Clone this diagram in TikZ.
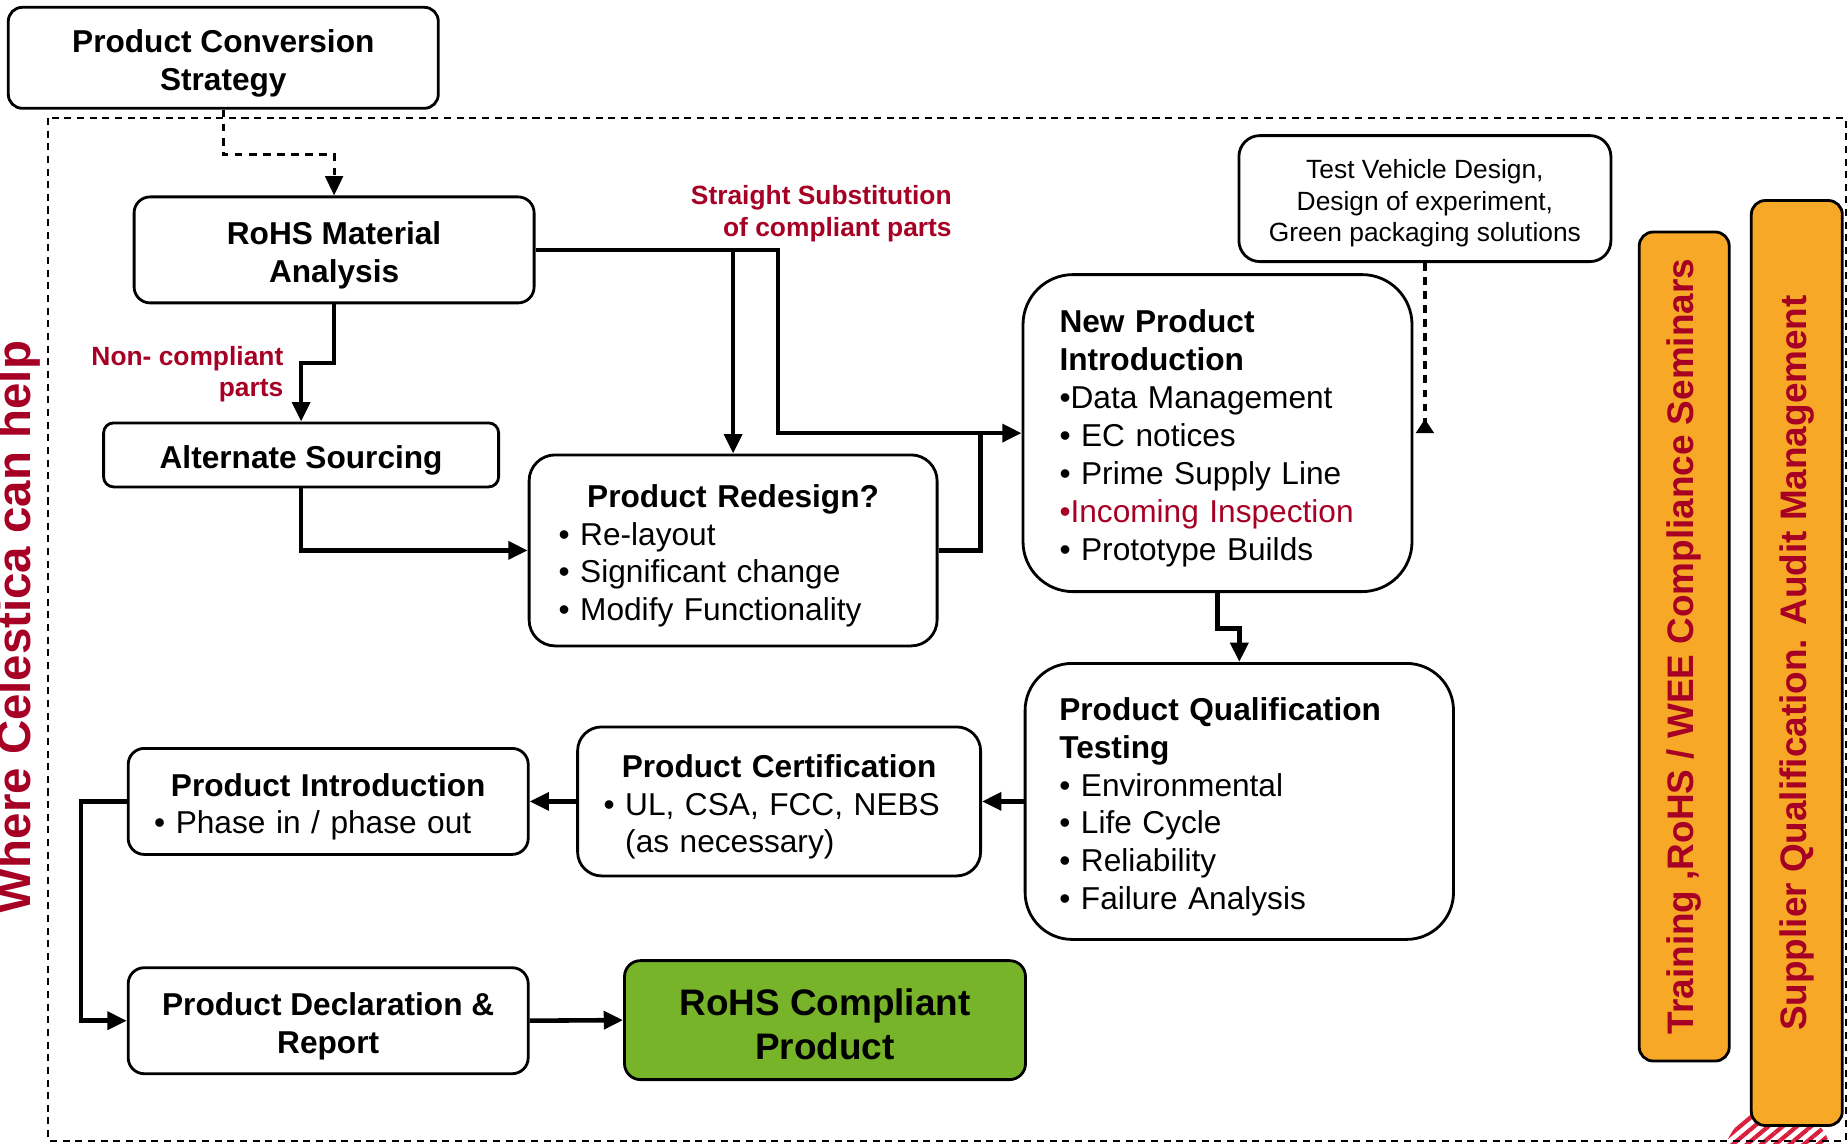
\documentclass[tikz,border=0pt]{standalone}
\usepackage{fontspec}
\setmainfont{Liberation Sans}
\usetikzlibrary{shapes,arrows.meta,positioning,calc,patterns.meta}
\definecolor{rohsred}{RGB}{166,0,36}
\definecolor{logored}{RGB}{218,30,62}
\definecolor{barorange}{RGB}{246,168,38}
\definecolor{okgreen}{RGB}{119,180,41}
% invisible strut so the text sits a little low in its box
\newcommand{\topgap}[1][9.6pt]{\rule{0pt}{#1}}
\tikzstyle{block} = [rectangle, draw, line width=0.8pt, fill=white, align=center, rounded corners=0.16cm, inner sep=0pt, font=\bfseries\fontsize{9}{10.8}\selectfont]
\tikzstyle{listblock} = [block, align=left, font=\fontsize{9}{10.8}\selectfont]
\tikzstyle{bar} = [rectangle, draw, line width=0.8pt, fill=barorange, rounded corners=0.14cm, rotate=90, inner sep=0pt, text=rohsred, font=\bfseries\fontsize{10.5}{12}\selectfont]
\tikzstyle{note} = [text=rohsred, align=right, inner sep=0pt, font=\bfseries\fontsize{7.5}{9}\selectfont]
\tikzstyle{flow} = [draw, line width=1.3pt, ->]
\tikzstyle{hint} = [draw, line width=0.9pt, dash pattern=on 2.2pt off 1.8pt]
\tikzstyle{frame} = [draw, line width=0.6pt, dash pattern=on 2pt off 1.6pt]

\begin{document}
\begin{tikzpicture}[>={Triangle[width=5pt,length=5.5pt]}]
    \useasboundingbox (0,0) rectangle (18.48,-11.43);

    % bit of the logo peeking out under the right bar
    \fill[pattern={Lines[angle=40,distance=2.6pt,line width=1.2pt]}, pattern color=logored] (17.78,-11.62) circle (0.55);

    % help area
    \draw[frame] (0.483,-1.179) rectangle (18.457,-11.409);
    \node[text=rohsred, font=\bfseries\fontsize{13.5}{16}\selectfont, rotate=90, anchor=base, inner sep=0pt] (helper) at (0.305,-6.27) {Where Celestica can help};

    % boxes
    \node[block, minimum width=4.30cm, minimum height=1.01cm, rounded corners=0.14cm] (convert) at (2.233,-0.578) {\topgap Product Conversion\\Strategy};
    \node[block, minimum width=4.00cm, minimum height=1.06cm] (rohs) at (3.341,-2.499) {\topgap RoHS Material\\Analysis};
    \node[block, minimum width=3.95cm, minimum height=0.64cm, rounded corners=0.1cm] (alt) at (3.011,-4.549) {\topgap Alternate Sourcing};
    \node[listblock, text width=3.49cm, inner xsep=0.295cm, minimum width=4.08cm, minimum height=1.91cm, rounded corners=0.26cm] (redesign) at (7.331,-5.504)
        {\topgap\hfill\textbf{Product Redesign?}\hfill\null\\• Re-layout\\• Significant change\\• Modify Functionality};
    \node[listblock, text width=3.16cm, inner xsep=0.365cm, minimum width=3.89cm, minimum height=3.17cm, rounded corners=0.5cm] (npi) at (12.175,-4.331)
        {\topgap\textbf{New Product}\\\textbf{Introduction}\\•Data Management\\• EC notices\\• Prime Supply Line\\\textcolor{rohsred}{•Incoming Inspection}\\• Prototype Builds};
    \node[block, font=\fontsize{7.5}{9}\selectfont, minimum width=3.72cm, minimum height=1.26cm, rounded corners=0.21cm] (vehicle) at (14.249,-1.986)
        {\topgap[8.2pt]Test Vehicle Design,\\Design of experiment,\\Green packaging solutions};
    \node[listblock, text width=3.60cm, inner xsep=0.342cm, minimum width=4.28cm, minimum height=2.76cm, rounded corners=0.47cm] (pqt) at (12.393,-8.014)
        {\topgap\textbf{Product Qualification}\\\textbf{Testing}\\• Environmental\\• Life Cycle\\• Reliability\\• Failure Analysis};
    \node[listblock, text width=3.51cm, inner xsep=0.26cm, minimum width=4.03cm, minimum height=1.49cm, rounded corners=0.24cm] (cert) at (7.791,-8.014)
        {\topgap\hfill\textbf{Product Certification}\hfill\null\\• UL, CSA, FCC, NEBS\\\phantom{• }(as necessary)};
    \node[listblock, text width=3.48cm, inner xsep=0.26cm, minimum width=4.00cm, minimum height=1.06cm] (intro) at (3.282,-8.014)
        {\topgap\hfill\textbf{Product Introduction}\hfill\null\\• Phase in / phase out};
    \node[block, minimum width=4.00cm, minimum height=1.06cm] (declare) at (3.282,-10.207) {\topgap Product Declaration \&\\Report};
    \node[block, fill=okgreen, font=\bfseries\fontsize{10.5}{12.7}\selectfont, minimum width=4.01cm, minimum height=1.19cm] (compliant) at (8.250,-10.201) {\topgap[10pt]RoHS Compliant\\Product};

    % side bars
    \node[bar, minimum width=8.29cm, minimum height=0.90cm] (seminars) at (16.842,-6.465) {Training ,RoHS / WEE Compliance Seminars};
    \node[bar, minimum width=9.25cm, minimum height=0.91cm] (suppliers) at (17.968,-6.630) {Supplier Qualification. Audit Management};

    % path labels
    \node[note, anchor=east] (subst) at (9.523,-2.139) {Straight Substitution\\of compliant parts};
    \node[note, anchor=east] (noncomp) at (2.840,-3.742) {Non- compliant\\parts};

    \coordinate (split) at (7.779,-2.499);
    \coordinate (merge) at (9.806,-4.331);

    % connectors
    \draw[hint, ->] (convert.south) -- ++(0,-0.448) -| (rohs.north);
    \draw[flow] (rohs.south) -- ++(0,-0.589) -| (alt.north);
    \draw[flow] (alt.south) |- (redesign.west);
    \draw[flow] (rohs.east) -- (split) |- (npi.west);
    \draw[flow] (rohs.east -| redesign.north) -- (redesign.north);
    \draw[flow, -] (redesign.east) -| (merge);
    \draw[flow] (npi.south) -- ++(0,-0.354) -| (pqt.north);
    \draw[flow] (pqt.west) -- (cert.east);
    \draw[flow] (cert.west) -- (intro.east);
    \draw[flow] (intro.west) -- ++(-0.46,0) |- (declare.west);
    \draw[flow] (declare.east) -- (compliant.west);
    \draw[hint, line width=1.2pt, -{Triangle[reversed,width=5pt,length=4pt]}] (vehicle.south) -- (vehicle.south |- npi.east);
\end{tikzpicture}
\end{document}
